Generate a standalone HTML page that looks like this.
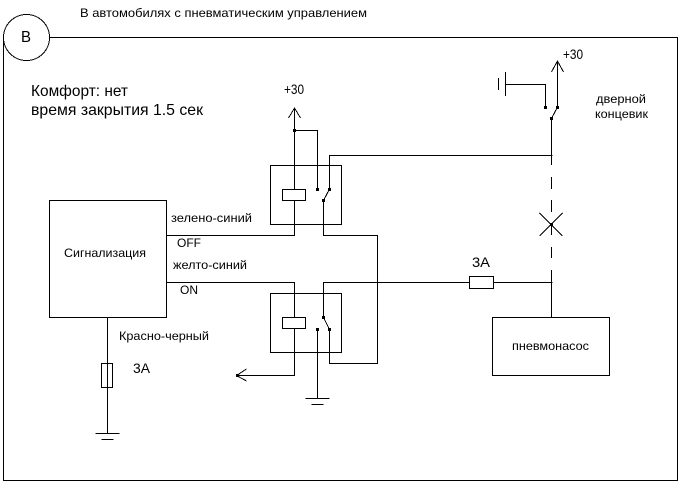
<!DOCTYPE html>
<html>
<head>
<meta charset="utf-8">
<style>
html,body{margin:0;padding:0;background:#fff;width:681px;height:482px;overflow:hidden}
svg{display:block}
text{font-family:"Liberation Sans","Noto Sans CJK SC",sans-serif;font-size:12px;fill:#000}
.l{fill:none;stroke:#000;stroke-width:1;shape-rendering:crispEdges}
.a{fill:none;stroke:#000;stroke-width:1;shape-rendering:crispEdges}
</style>
</head>
<body>
<svg xmlns="http://www.w3.org/2000/svg" width="681" height="482" viewBox="0 0 681 482">
<!-- frame -->
<path class="l" d="M49.5 37.5H677.5V480.5H3.5V37.5"/>
<circle class="a" cx="26.5" cy="37.5" r="23" fill="#fff"/>
<!-- alarm box -->
<rect class="l" x="49.5" y="200.5" width="117" height="117"/>
<!-- relay 1 -->
<rect class="l" x="270.5" y="165.5" width="71" height="59"/>
<rect class="l" x="282.5" y="189.5" width="23" height="11"/>
<path class="l" d="M294.5 108V189.5M294.5 200.5V235.5H166.5"/>
<path class="l" d="M294.5 130.5H317.5V189"/>
<path class="l" d="M552.5 155.5H329.5V189"/>
<path class="l" d="M323.5 200V235.5H377.5V363.5H329.5V329"/>
<path class="a" d="M329.5 189L323.5 200.5"/>
<path class="a" d="M288.5 118L294.5 108L300.5 118"/>
<!-- relay 2 -->
<rect class="l" x="270.5" y="293.5" width="71" height="59"/>
<rect class="l" x="282.5" y="317.5" width="23" height="11"/>
<path class="l" d="M166.5 282.5H294.5V317.5M294.5 328.5V375.5H236.5"/>
<path class="a" d="M246.5 369L236.5 375.5L246.5 381"/>
<path class="l" d="M323.5 317V282.5H469.5M493.5 282.5H552.5"/>
<path class="a" d="M323.5 317.5L329.5 329.5"/>
<path class="l" d="M317.5 329V398.5M305.5 398.5H329.5M311.5 404.5H323.5"/>
<!-- fuse right -->
<rect class="l" x="469.5" y="276.5" width="24" height="12"/>
<!-- pump -->
<rect class="l" x="492.5" y="317.5" width="117" height="58"/>
<!-- dashed line -->
<path class="l" d="M551.5 118V165M551.5 177V189M551.5 200V212M551.5 223V235M551.5 247V258M551.5 270V317"/>
<path class="a" d="M539.5 213L562.5 236M562.5 213L539.5 236"/>
<!-- door switch -->
<path class="l" d="M557.5 61V107M545.5 107V84.5H505.5M505.5 72V96M498.5 78V90"/>
<path class="a" d="M551.5 72L557.5 61L563.5 72"/>
<path class="a" d="M557.5 107L551.5 118.5"/>
<!-- left fuse & ground -->
<path class="l" d="M107.5 317V433.5M95.5 433.5H119.5M101.5 439.5H113.5"/>
<rect class="l" x="101.5" y="363.5" width="11" height="24"/>
<!-- dots -->
<g fill="#000">
<rect x="293" y="129" width="3" height="3"/>
<rect x="316" y="188" width="3" height="3"/>
<rect x="328" y="188" width="3" height="3"/>
<rect x="322" y="199" width="3" height="3"/>
<rect x="322" y="316" width="3" height="3"/>
<rect x="328" y="328" width="3" height="3"/>
<rect x="316" y="328" width="3" height="3"/>
<rect x="556" y="106" width="3" height="3"/>
<rect x="544" y="106" width="3" height="3"/>
<rect x="550" y="117" width="3" height="3"/>
<rect x="550" y="223" width="3" height="3"/>
<rect x="236" y="374" width="3" height="3"/>
</g>
<!-- text -->
<text x="21" y="42" style="font-size:16px" textLength="10" lengthAdjust="spacingAndGlyphs">В</text>
<text x="80" y="17" textLength="287" lengthAdjust="spacingAndGlyphs">В автомобилях с пневматическим управлением</text>
<text x="31" y="96" style="font-size:16px" textLength="97" lengthAdjust="spacingAndGlyphs">Комфорт: нет</text>
<text x="31" y="115" style="font-size:16px" textLength="172" lengthAdjust="spacingAndGlyphs">время закрытия 1.5 сек</text>
<text x="284" y="94" style="font-size:14px" textLength="20" lengthAdjust="spacingAndGlyphs">+30</text>
<text x="563" y="59" style="font-size:14px" textLength="20" lengthAdjust="spacingAndGlyphs">+30</text>
<text x="596" y="103" textLength="50" lengthAdjust="spacingAndGlyphs">дверной</text>
<text x="595" y="118" textLength="53" lengthAdjust="spacingAndGlyphs">концевик</text>
<text x="171" y="222" textLength="81" lengthAdjust="spacingAndGlyphs">зелено-синий</text>
<text x="177" y="247" textLength="24" lengthAdjust="spacingAndGlyphs">OFF</text>
<text x="64" y="257" textLength="82" lengthAdjust="spacingAndGlyphs">Сигнализация</text>
<text x="173" y="269" textLength="74" lengthAdjust="spacingAndGlyphs">желто-синий</text>
<text x="180" y="294" textLength="18" lengthAdjust="spacingAndGlyphs">ON</text>
<text x="472" y="267" style="font-size:14px" textLength="18" lengthAdjust="spacingAndGlyphs">3А</text>
<text x="512" y="350" textLength="77" lengthAdjust="spacingAndGlyphs">пневмонасос</text>
<text x="119" y="340" textLength="90" lengthAdjust="spacingAndGlyphs">Красно-черный</text>
<text x="133" y="373" style="font-size:14px" textLength="17" lengthAdjust="spacingAndGlyphs">3А</text>
</svg>
</body>
</html>
